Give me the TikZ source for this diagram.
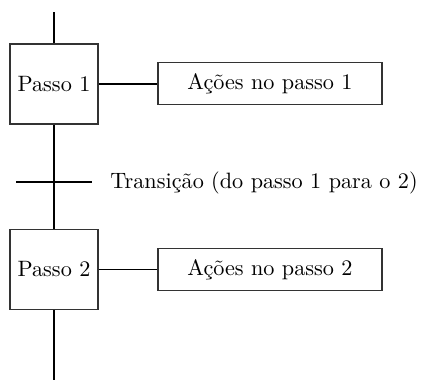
\documentclass[tikz,border=0pt]{standalone}
\begin{document}
\begin{tikzpicture}[x=0.45pt,y=-0.45pt,
  stepbox/.style={draw=black!80,line width=0.7pt,minimum width=39.6pt,minimum height=36pt,inner sep=0pt},
  actbox/.style={draw=black!80,line width=0.7pt,minimum width=100.8pt,minimum height=18.8pt,inner sep=0pt},
  conn/.style={line width=0.8pt}]
\useasboundingbox (0,0) rectangle (422,380);
\node[stepbox] (s1) at (54,84) {Passo 1};
\node[actbox] (a1) at (270,83.5) {Ações no passo 1};
\node[stepbox] (s2) at (54,269.5) {Passo 2};
\node[actbox] (a2) at (270,269.5) {Ações no passo 2};
\coordinate (top) at (54,12);
\coordinate (bot) at (54,380);
\coordinate (tl) at (16,182);
\coordinate (tr) at (92,182);
\node[anchor=west,inner sep=0pt] (tt) at (110,183) {Transição (do passo 1 para o 2)};
\draw[conn] (top) -- (s1.north);
\draw[conn] (s1.south) -- (s2.north);
\draw[conn] (s2.south) -- (bot);
\draw[conn] (s1.east) -- (a1.west |- s1.east);
\draw[conn] (s2.east) -- (a2.west |- s2.east);
\draw[conn] (tl) -- (tr);
\end{tikzpicture}
\end{document}
